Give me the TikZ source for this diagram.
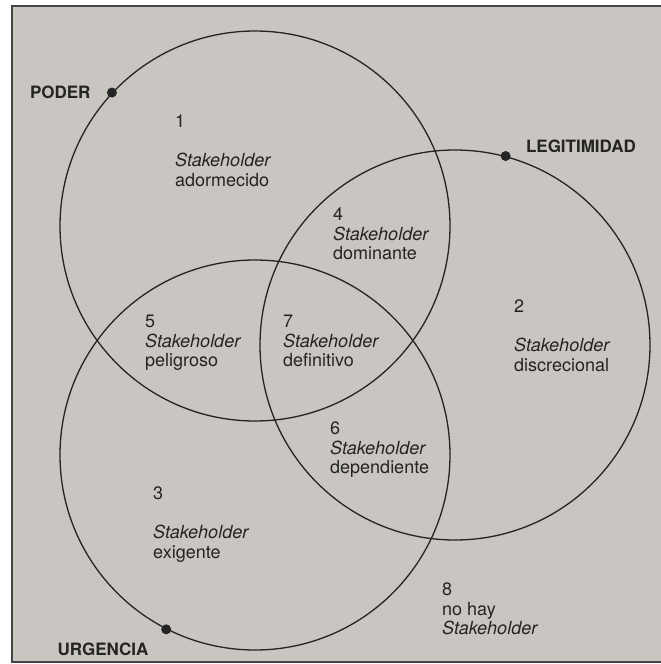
\documentclass[tikz,border=0pt]{standalone}
\usepackage{fontspec}
\setmainfont{TeX Gyre Heros}
\usetikzlibrary{positioning}

\definecolor{paper}{RGB}{201,197,193}
\definecolor{ink}{RGB}{36,36,36}

\tikzset{
  set/.style={circle, draw=ink, line width=1.3pt, minimum size=390pt, inner sep=0pt},
  setdot/.style={circle, fill=ink, minimum size=10pt, inner sep=0pt},
  tag/.style={font=\fontsize{17}{19.5}\selectfont\bfseries, text=ink, inner sep=0pt},
  region/.style={font=\fontsize{18}{19.5}\selectfont, text=ink, align=left, inner sep=0pt, anchor=north west}
}

\begin{document}
\begin{tikzpicture}[x=1pt,y=-1pt]
  \useasboundingbox (0,0) rectangle (661,664);
  % Page
  \fill[white] (0,0) rectangle (661,664);
  \fill[paper] (12,6) rectangle (661,662);
  \draw[ink!85, line width=1.5pt] (661,6) -- (12,6) -- (12,662) -- (661,662);

  % Circles
  \node[set] (poder) at (255,226) {};
  \node[set] (legit) at (455,345) {};
  \node[set] (urgen) at (255,455) {};

  % Dots and names
  \node[setdot] (pdot) at (poder.137) {};
  \node[setdot] (ldot) at (legit.75) {};
  \node[setdot] (udot) at (urgen.243) {};
  \node[tag, left=16pt of pdot] (ptag) {PODER};
  \node[tag, right=15pt of ldot, yshift=10pt] (ltag) {LEGITIMIDAD};
  \node[tag, below left=10pt and 14pt of udot] (utag) {URGENCIA};

  % Regions
  \node[region] (r1) at (175,115) {1\\[19.5pt]\textit{Stakeholder}\\adormecido};
  \node[region] (r4) at (333,208) {4\\\textit{Stakeholder}\\dominante};
  \node[region] (r2) at (514,300) {2\\[19.5pt]\textit{Stakeholder}\\discrecional};
  \node[region] (r5) at (145,315) {5\\\textit{Stakeholder}\\peligroso};
  \node[region] (r7) at (283,315) {7\\\textit{Stakeholder}\\definitivo};
  \node[region] (r6) at (330,422) {6\\\textit{Stakeholder}\\dependiente};
  \node[region] (r3) at (153,487) {3\\[19.5pt]\textit{Stakeholder}\\exigente};
  \node[region] (r8) at (442,583) {8\\no hay\\\textit{Stakeholder}};
\end{tikzpicture}
\end{document}
